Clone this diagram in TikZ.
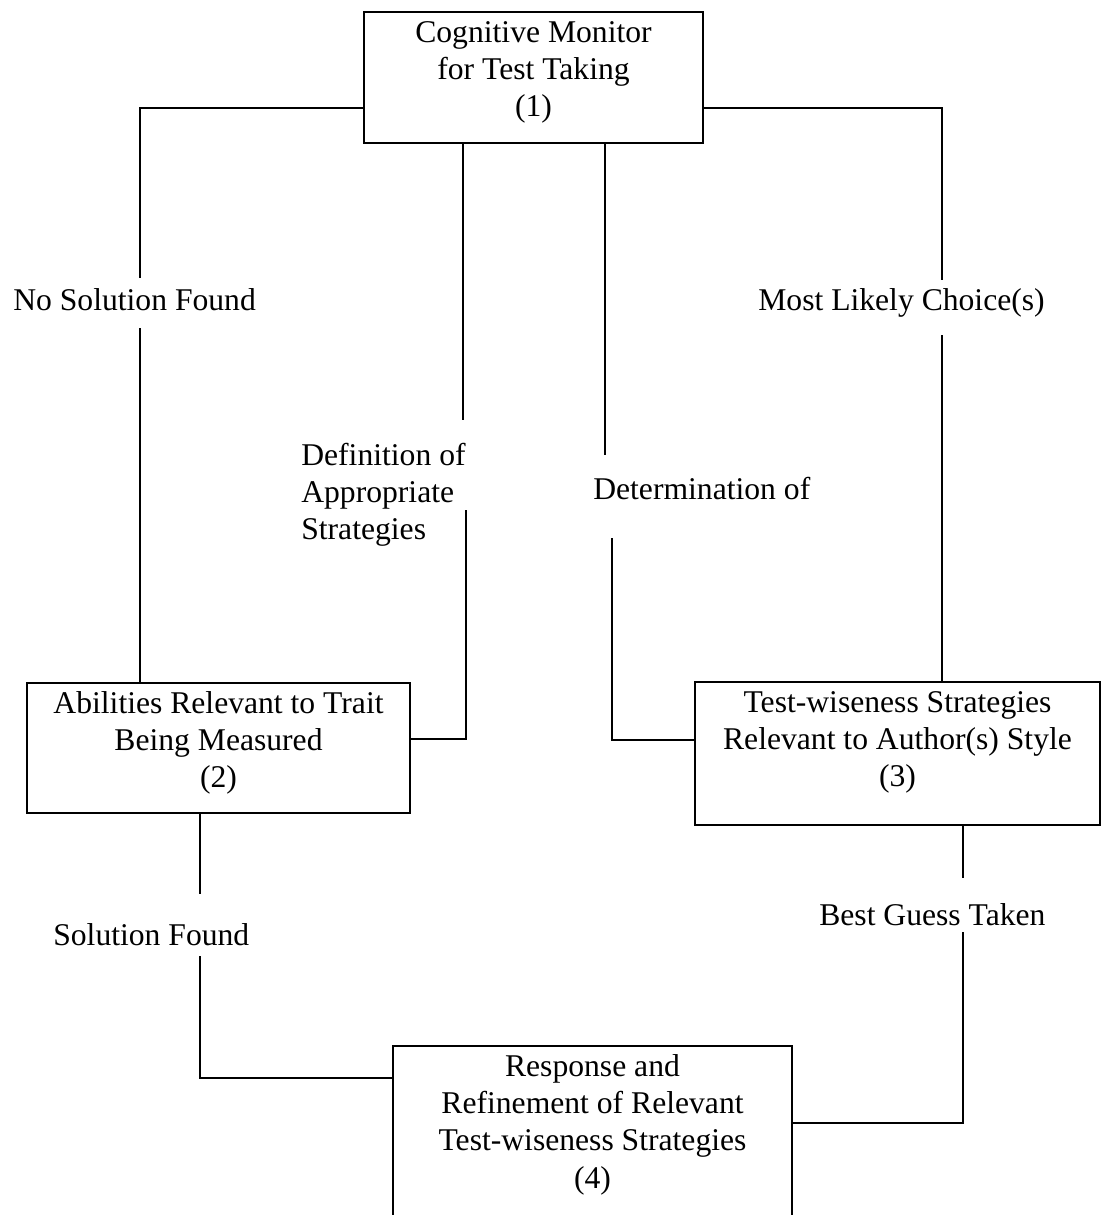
\documentclass[tikz,border=0pt]{standalone}
\usepackage{fontspec}
\setmainfont{Liberation Serif}

\begin{document}
\begin{tikzpicture}[stage/.style={draw,inner sep=0pt,align=flush center,text height=0.6cm},
    note/.style={inner sep=0pt,anchor=base west},
    font=\fontsize{18pt}{21.3pt}\selectfont,line width=1.5pt]
      \useasboundingbox (0,0) rectangle (22.04,-24.3);
      \node (b1) at (10.67,-1.55) [stage,text width=6.78cm,text depth=2.02cm] {Cognitive Monitor\\for Test Taking\\(1)};
      \node (b2) at (4.37,-14.96) [stage,text width=7.66cm,text depth=2.0cm] {Abilities Relevant to Trait\\Being Measured\\(2)};
      \node (b3) at (17.95,-15.07) [stage,text width=8.1cm,text depth=2.26cm] {Test-wiseness Strategies\\Relevant to Author(s) Style\\(3)};
      \node (b4) at (11.85,-22.96) [stage,text width=7.98cm,text depth=3.48cm] {Response and\\Refinement of Relevant\\Test-wiseness Strategies\\(4)};
      \node (ns) at (0.24,-6.2) [note] {No Solution Found};
      \node (mc) at (15.14,-6.2) [note] {Most Likely Choice(s)};
      \node (ds) at (6.0,-9.3) [note,text width=4cm,align=flush left] {Definition of\\Appropriate\\Strategies};
      \node (dt) at (11.84,-9.98) [note] {Determination of};
      \node (sf) at (1.04,-18.9) [note] {Solution Found};
      \node (bg) at (16.36,-18.5) [note] {Best Guess Taken};
      % free ends of the broken lines
      \coordinate (ns1) at (2.8,-5.56);
      \coordinate (ns2) at (2.8,-6.56);
      \coordinate (mc1) at (18.84,-5.6);
      \coordinate (mc2) at (18.84,-6.7);
      \coordinate (ds1) at (9.26,-8.4);
      \coordinate (ds2) at (9.32,-10.2);
      \coordinate (dt1) at (12.1,-9.1);
      \coordinate (dt2) at (12.24,-10.76);
      \coordinate (sf1) at (4.0,-17.88);
      \coordinate (sf2) at (4.0,-19.12);
      \coordinate (bg1) at (19.26,-17.56);
      \coordinate (bg2) at (19.26,-18.64);
      \draw ([yshift=-0.61cm]b1.west) -| (ns1);
      \draw (ns2) -- (ns2 |- b2.north);
      \draw ([yshift=-0.61cm]b1.east) -| (mc1);
      \draw (mc2) -- (mc2 |- b3.north);
      \draw (b1.south -| ds1) -- (ds1);
      \draw (ds2) |- ([yshift=0.18cm]b2.east);
      \draw (b1.south -| dt1) -- (dt1);
      \draw (dt2) |- ([yshift=0.27cm]b3.west);
      \draw (b2.south -| sf1) -- (sf1);
      \draw (sf2) |- ([yshift=1.4cm]b4.west);
      \draw (b3.south -| bg1) -- (bg1);
      \draw (bg2) |- ([yshift=0.5cm]b4.east);
    \end{tikzpicture}
\end{document}
